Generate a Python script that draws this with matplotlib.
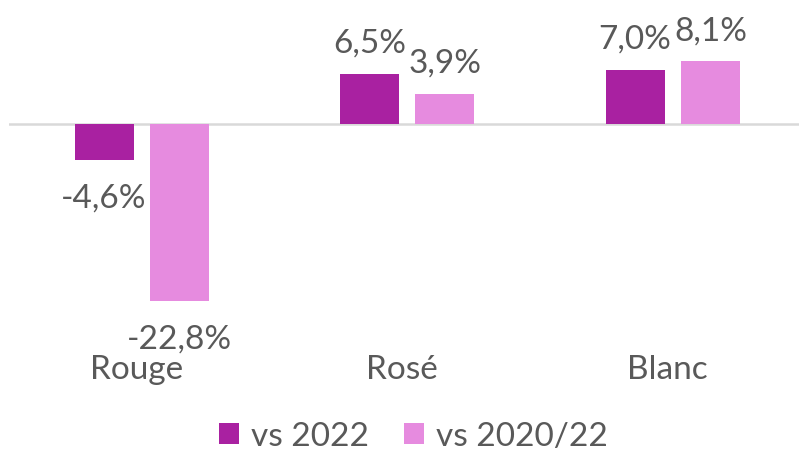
import matplotlib
matplotlib.use("Agg")
import matplotlib.pyplot as plt
import matplotlib.transforms as mtransforms
from matplotlib.patches import Patch

categories = ["Rouge", "Rosé", "Blanc"]
series_names = ["vs 2022", "vs 2020/22"]
vs_2022 = [-4.6, 6.5, 7.0]
vs_2020_22 = [-22.8, 3.9, 8.1]
colors = ["#A921A1", "#E68BDF"]
text_color = "#595959"

W, H = 799, 452
fig = plt.figure(figsize=(W / 100, H / 100), dpi=100)
plt.rcParams['font.family'] = ['Lato', 'DejaVu Sans']

ppp = 7.75  # pixels per percent
zero_px = 125
ax = fig.add_axes([9 / W, 0, 1 - 9 / W, 1])
ax.set_ylim(-(H - zero_px) / ppp, zero_px / ppp)
ax.set_xlim(-0.5, -0.5 + (W - 9) / 265.5)
ax.axis("off")

ax.axhline(0, color="#D9D9D9", lw=1.8, zorder=1)

offset = 0.142
width = 0.222
fs = 24
for i, (vals, col) in enumerate(zip([vs_2022, vs_2020_22], colors)):
    xs = [k + (-offset if i == 0 else offset) for k in range(len(categories))]
    ax.bar(xs, vals, width=width, color=col, zorder=2)
    for x, v in zip(xs, vals):
        lab = f"{v:.1f}%".replace(".", ",")
        if v >= 0:
            ax.annotate(lab, (x, v), xytext=(0, 31), textcoords="offset pixels",
                        ha="center", va="center", fontsize=fs, color=text_color)
        else:
            ax.annotate(lab, (x, v), xytext=(0, -38), textcoords="offset pixels",
                        ha="center", va="center", fontsize=fs, color=text_color)

trans = mtransforms.blended_transform_factory(ax.transData, fig.transFigure)
for k, c in enumerate(categories):
    ax.text(k - 0.02, 1 - 370 / H, c, transform=trans, ha="center", va="center",
            fontsize=fs, color=text_color)

handles = [Patch(facecolor=c, edgecolor="none") for c in colors]
leg = fig.legend(handles, series_names, loc="center", bbox_to_anchor=(413 / W, 1 - 437 / H),
                 ncol=2, frameon=False, fontsize=fs, handlelength=0.6, handleheight=0.6,
                 handletextpad=0.36, columnspacing=1.05, borderaxespad=0, borderpad=0)
for t in leg.get_texts():
    t.set_color(text_color)

fig.savefig("out.png", dpi=100)
